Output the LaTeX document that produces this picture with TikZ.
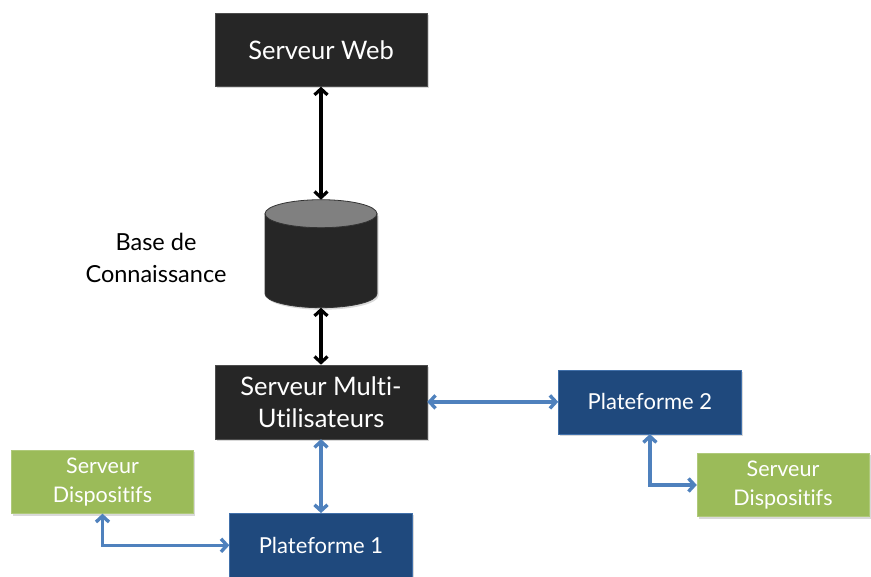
\documentclass[tikz,border=0pt]{standalone}
\usepackage{fontspec}
\setmainfont{Lato}[Ligatures=NoCommon]
\usepackage{tikz}
\usetikzlibrary{arrows.meta, positioning, shapes.geometric, shadows}

\definecolor{boxdark}{HTML}{262626}
\definecolor{boxblue}{HTML}{1F497D}
\definecolor{boxgreen}{HTML}{9BBB59}
\definecolor{arrblue}{HTML}{4F81BD}

\begin{document}
\begin{tikzpicture}[
        x=1pt, y=-1pt,
        shdw/.style={drop shadow={shadow xshift=1.5pt, shadow yshift=-2pt, opacity=0.3}},
        dark/.style={rectangle, draw=black!70, fill=boxdark, text=white, shdw, minimum width=212pt, minimum height=73pt, align=center, font=\fontsize{25.5}{32}\selectfont},
        plat/.style={rectangle, draw=arrblue!70!boxblue, fill=boxblue, text=white, shdw, minimum width=183pt, minimum height=64pt, align=center, font=\fontsize{22}{26}\selectfont},
        disp/.style={rectangle, draw=boxgreen!80!white, fill=boxgreen, text=white, shdw, minimum height=63pt, align=center, font=\fontsize{21.5}{29}\selectfont},
        arr/.style={{Straight Barb[length=6pt, width=13pt]}-{Straight Barb[length=6pt, width=13pt]}, line width=3.2pt, black},
        barr/.style={{Straight Barb[length=6pt, width=13pt]}-{Straight Barb[length=6pt, width=13pt]}, line width=3.4pt, arrblue},
    ]
        \useasboundingbox (0,0) rectangle (871,577);

        % Top: web server and knowledge base
        \node[dark] (web) at (321,50) {Serveur Web};
        \node[rectangle, minimum width=112pt, minimum height=108pt, inner sep=0pt, outer sep=0pt, below=113pt of web] (kb) {};
        \path[shdw, fill=boxdark, draw=black!80, line width=0.8pt] ([yshift=-14pt]kb.north west) -- ([yshift=14pt]kb.south west)
              arc[start angle=180, end angle=360, x radius=56pt, y radius=14pt] -- ([yshift=-14pt]kb.north east) -- cycle;
        \filldraw[fill=black!50, draw=black!80, line width=0.8pt] ([yshift=-14pt]kb.north) ellipse[x radius=56pt, y radius=14pt];
        \node[align=center, font=\fontsize{23.5}{32}\selectfont] (kblbl) at (156,258) {Base de\\Connaissance};

        % Middle: multi-user server and platforms
        \node[dark, minimum height=74pt, below=57pt of kb] (multi) {Serveur Multi-\\Utilisateurs};
        \node[plat, below=74pt of multi] (plat1) {Plateforme 1};
        \node[plat, right=131pt of multi] (plat2) {Plateforme 2};

        % Device servers
        \node[disp, minimum width=182pt] (disp1) at (102.5,482) {Serveur\\Dispositifs};
        \node[disp, minimum width=172pt] (disp2) at (783,485) {Serveur\\Dispositifs};

        % Arrows
        \draw[arr] (web) -- (kb);
        \draw[arr] (kb) -- (multi);
        \draw[barr] (multi) -- (plat1);
        \draw[barr] (multi) -- (plat2);
        \draw[barr] (disp1.south) |- (plat1.west);
        \draw[barr] (plat2.south) |- (disp2.west);
    \end{tikzpicture}
\end{document}
